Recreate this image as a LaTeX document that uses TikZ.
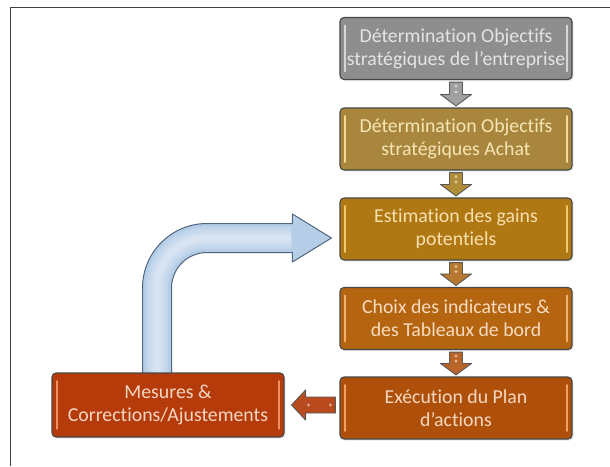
\documentclass[tikz,border=0pt]{standalone}
\usepackage{fontspec}
\setmainfont{Carlito}[Ligatures=NoCommon]
\usetikzlibrary{calc,backgrounds,shadows}
\definecolor{c1}{HTML}{8E8E8E}\definecolor{t1}{HTML}{E4E4E4}\definecolor{h1}{HTML}{D6D6D6}
\definecolor{c2}{HTML}{A8863E}\definecolor{t2}{HTML}{F6E6B4}\definecolor{h2}{HTML}{F4DC98}
\definecolor{c3}{HTML}{AF7812}\definecolor{t3}{HTML}{F8E0B0}\definecolor{h3}{HTML}{F0C870}
\definecolor{c4}{HTML}{B5640F}\definecolor{t4}{HTML}{F6DCC0}\definecolor{h4}{HTML}{F0B070}
\definecolor{c5}{HTML}{AE5009}\definecolor{t5}{HTML}{F6D8C0}\definecolor{h5}{HTML}{F0A060}
\definecolor{c6}{HTML}{B53C0A}\definecolor{t6}{HTML}{F6D6C4}\definecolor{h6}{HTML}{F09060}
\definecolor{a1}{HTML}{A0A0A0}\definecolor{a2}{HTML}{B08C38}\definecolor{a3}{HTML}{B87830}
\definecolor{a4}{HTML}{B86428}\definecolor{a5}{HTML}{B84A1E}
\definecolor{bluef}{HTML}{B6CDE8}\definecolor{blued}{HTML}{4F6580}
\newcommand\dnarrow[3]{%
  \filldraw[fill=#3, draw=black!65, line width=0.9pt, line join=round]
    let \p1=(#1.south), \p2=(#2.north) in
    (\x1-6.5pt,\y1-2pt) -- (\x1+6.5pt,\y1-2pt) -- (\x1+6.5pt,\y2+13pt) --
    (\x1+15.5pt,\y2+13pt) -- (\x1,\y2+1.5pt) -- (\x1-15.5pt,\y2+13pt) --
    (\x1-6.5pt,\y2+13pt) -- cycle;
  \fill[white, opacity=0.55] let \p1=(#1.south), \p2=(#2.north) in
    (\x1,\y1-6pt) circle (1.6pt) (\x1,\y2+15.5pt) circle (1.6pt);
}
\newcommand\tubeband[1]{%
  \draw[white, opacity=0.16, line width=#1]
    let \p1=([xshift=-11pt,yshift=-3pt]m.north), \p2=([xshift=-8pt,yshift=-9pt]b3.west) in
    (\x1,\y1) -- (\x1,\y2-50pt)
    .. controls (\x1,\y2-22.4pt) and (\x1+22.4pt,\y2) .. (\x1+50pt,\y2) -- (\x2-40pt,\y2);
}
\tikzset{
  flowbox/.style n args={3}{rectangle, rounded corners=4pt, draw=black!72,
    line width=1.1pt, fill=#1, text=#2, minimum width=232pt, minimum height=62pt,
    align=center, inner sep=2pt, font=\fontsize{19.8pt}{23pt}\selectfont,
    drop shadow={opacity=0.18, shadow xshift=1.5pt, shadow yshift=-1.5pt},
    path picture={
      \draw[#3, line width=1.8pt, line cap=round]
        ([xshift=5pt,yshift=-8pt]path picture bounding box.north west) --
        ([xshift=5pt,yshift=8pt]path picture bounding box.south west);
      \draw[#3, line width=1.8pt, line cap=round]
        ([xshift=-5pt,yshift=-8pt]path picture bounding box.north east) --
        ([xshift=-5pt,yshift=8pt]path picture bounding box.south east);
    }}
}
\begin{document}
\begin{tikzpicture}[x=1pt,y=-1pt]
\useasboundingbox (0,0) rectangle (610,466);
\draw[line width=1.6pt, draw=black!75] (10.5,466) -- (10.5,7.5) -- (610,7.5);

\node[flowbox={c1}{t1}{h1}] (b1) at (456,48.5) {Détermination Objectifs\\stratégiques de l’entreprise};
\node[flowbox={c2}{t2}{h2}] (b2) at (456,139) {Détermination Objectifs\\stratégiques Achat};
\node[flowbox={c3}{t3}{h3}] (b3) at (456,229) {Estimation des gains\\potentiels};
\node[flowbox={c4}{t4}{h4}] (b4) at (456,318.5) {Choix des indicateurs \&\\des Tableaux de bord};
\node[flowbox={c5}{t5}{h5}] (b5) at (456,408) {Exécution du Plan\\d’actions};
\node[flowbox={c6}{t6}{h6}, minimum height=64pt] (m) at (168,405) {Mesures \&\\Corrections/Ajustements};

\dnarrow{b1}{b2}{a1}
\dnarrow{b2}{b3}{a2}
\dnarrow{b3}{b4}{a3}
\dnarrow{b4}{b5}{a4}

\filldraw[fill=a5, draw=black!65, line width=0.9pt, line join=round]
  let \p1=(b5.west), \p2=(m.east) in
  (\x1-4pt,\y2+8pt) -- (\x2+21pt,\y2+8pt) -- (\x2+21pt,\y2+15pt) -- (\x2+7pt,\y2) --
  (\x2+21pt,\y2-15pt) -- (\x2+21pt,\y2-8pt) -- (\x1-4pt,\y2-8pt) -- cycle;
\fill[white, opacity=0.5] let \p1=(b5.west), \p2=(m.east) in
  (\x1-9pt,\y2) circle (1.6pt) (\x2+24pt,\y2) circle (1.6pt);

\begin{scope}[on background layer]
\filldraw[fill=bluef, draw=blued, line width=1pt, line join=round]
  let \p1=([xshift=-11pt,yshift=-3pt]m.north), \p2=([xshift=-8pt,yshift=-9pt]b3.west) in
  (\x1-14.5pt,\y1) -- (\x1-14.5pt,\y2-50pt)
  .. controls (\x1-14.5pt,\y2-14.38pt) and (\x1+14.38pt,\y2+14.5pt) .. (\x1+50pt,\y2+14.5pt)
  -- (\x2-39pt,\y2+14.5pt) -- (\x2-39pt,\y2+24pt) -- (\x2,\y2) -- (\x2-39pt,\y2-24pt)
  -- (\x2-39pt,\y2-14.5pt) -- (\x1+50pt,\y2-14.5pt)
  .. controls (\x1+30.39pt,\y2-14.5pt) and (\x1+14.5pt,\y2-30.39pt) .. (\x1+14.5pt,\y2-50pt)
  -- (\x1+14.5pt,\y1) -- cycle;
\tubeband{22pt}
\tubeband{16pt}
\tubeband{10pt}
\tubeband{5pt}
\end{scope}
\end{tikzpicture}
\end{document}
